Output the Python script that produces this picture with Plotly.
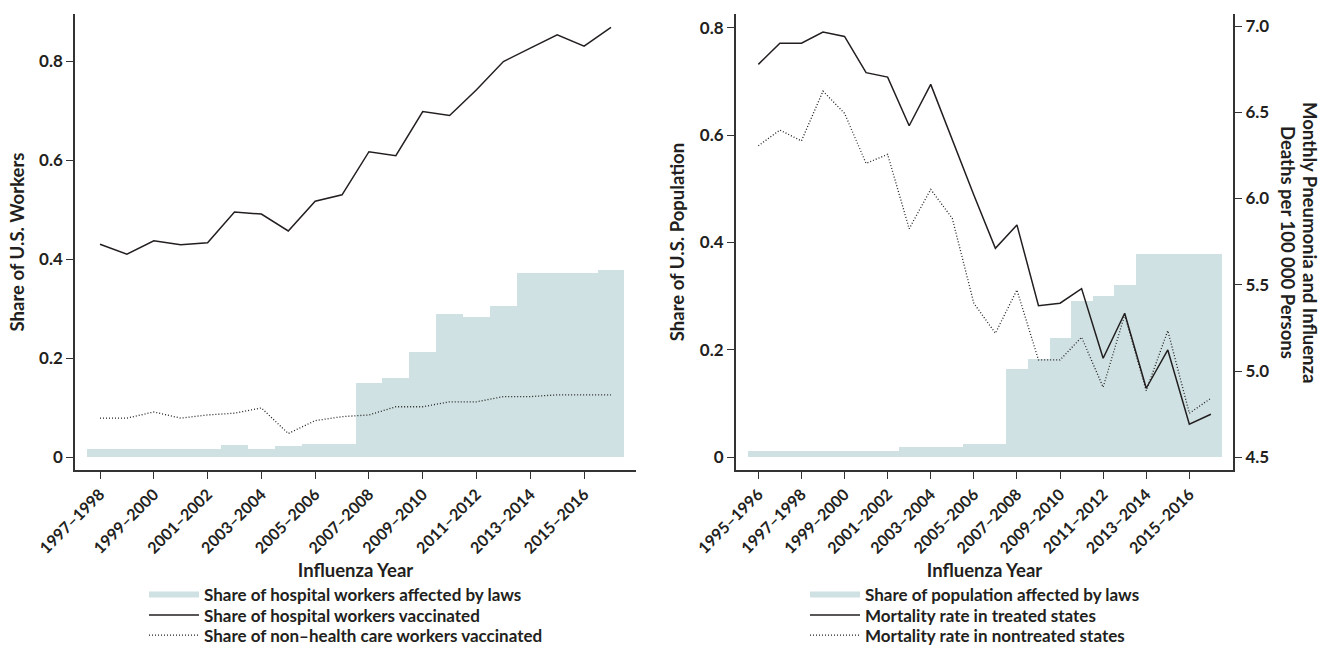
import plotly.graph_objects as go

# ---------------- data ----------------
seasons_left = ["1997–1998", "1998–1999", "1999–2000", "2000–2001", "2001–2002",
                "2002–2003", "2003–2004", "2004–2005", "2005–2006", "2006–2007",
                "2007–2008", "2008–2009", "2009–2010", "2010–2011", "2011–2012",
                "2012–2013", "2013–2014", "2014–2015", "2015–2016", "2016–2017"]
hosp_affected = [0.0175, 0.0175, 0.0175, 0.0175, 0.0175, 0.024, 0.017, 0.022, 0.027, 0.027,
                 0.150, 0.160, 0.212, 0.289, 0.283, 0.305, 0.373, 0.373, 0.373, 0.378]
hosp_vaccinated = [0.430, 0.410, 0.437, 0.429, 0.433, 0.495, 0.491, 0.457, 0.517, 0.530,
                   0.617, 0.609, 0.698, 0.690, 0.742, 0.799, 0.826, 0.853, 0.830, 0.868]
nonhc_vaccinated = [0.079, 0.079, 0.0915, 0.079, 0.0855, 0.089, 0.0996, 0.048, 0.074, 0.082,
                    0.0855, 0.102, 0.102, 0.112, 0.112, 0.1225, 0.1225, 0.126, 0.126, 0.126]

seasons_right = ["1995–1996", "1996–1997"] + seasons_left
pop_affected = [0.0124, 0.0124, 0.0124, 0.0124, 0.0124, 0.0124, 0.0124, 0.0186, 0.0186, 0.0186,
                0.0248, 0.0248, 0.1645, 0.183, 0.223, 0.291, 0.300, 0.320, 0.378, 0.378,
                0.378, 0.378]
mort_treated = [6.778, 6.901, 6.901, 6.965, 6.940, 6.730, 6.704, 6.422, 6.662, 6.335,
                6.020, 5.711, 5.847, 5.379, 5.393, 5.478, 5.074, 5.335, 4.900, 5.122,
                4.691, 4.749]
mort_nontreated = [6.306, 6.397, 6.334, 6.623, 6.494, 6.204, 6.256, 5.825, 6.053, 5.885,
                   5.393, 5.219, 5.470, 5.064, 5.064, 5.196, 4.906, 5.325, 4.886, 5.234,
                   4.755, 4.842]

share_ticks = [0, 0.2, 0.4, 0.6, 0.8]
share_tick_text = ["0", "0.2", "0.4", "0.6", "0.8"]
mort_ticks = [4.5, 5.0, 5.5, 6.0, 6.5, 7.0]
right_title_lines = ["Monthly Pneumonia and Influenza", "Deaths per 100 000 Persons"]

# ---------------- style ----------------
FILL = "#cfe1e2"
INK = "#231f20"
FONT = dict(family="Lato, 'Open Sans', sans-serif", size=17, color=INK, weight=700)
XTICKFONT = dict(FONT, size=16)
TITLEFONT = dict(FONT, size=18.5)
W, H = 1321, 653
DOTS = "1px,2px"

fig = go.Figure()

# left panel
fig.add_trace(go.Bar(x=seasons_left, y=hosp_affected, width=1, marker=dict(color=FILL, line=dict(width=0)),
                     showlegend=False, xaxis="x", yaxis="y"))
fig.add_trace(go.Scatter(x=[None], y=[None], mode="lines", line=dict(color=FILL, width=6),
                         name="Share of hospital workers affected by laws", legend="legend",
                         xaxis="x", yaxis="y"))
fig.add_trace(go.Scatter(x=seasons_left, y=hosp_vaccinated, mode="lines",
                         line=dict(color=INK, width=1.5),
                         name="Share of hospital workers vaccinated", legend="legend2",
                         xaxis="x", yaxis="y"))
fig.add_trace(go.Scatter(x=seasons_left, y=nonhc_vaccinated, mode="lines",
                         line=dict(color=INK, width=1.3, dash=DOTS),
                         name="Share of non–health care workers vaccinated", legend="legend3",
                         xaxis="x", yaxis="y"))

# right panel
fig.add_trace(go.Bar(x=seasons_right, y=pop_affected, width=1, marker=dict(color=FILL, line=dict(width=0)),
                     showlegend=False, xaxis="x2", yaxis="y2"))
fig.add_trace(go.Scatter(x=[None], y=[None], mode="lines", line=dict(color=FILL, width=6),
                         name="Share of population affected by laws", legend="legend4",
                         xaxis="x2", yaxis="y2"))
fig.add_trace(go.Scatter(x=seasons_right, y=mort_treated, mode="lines",
                         line=dict(color=INK, width=1.5),
                         name="Mortality rate in treated states", legend="legend5",
                         xaxis="x2", yaxis="y3"))
fig.add_trace(go.Scatter(x=seasons_right, y=mort_nontreated, mode="lines",
                         line=dict(color=INK, width=1.3, dash=DOTS),
                         name="Mortality rate in nontreated states", legend="legend6",
                         xaxis="x2", yaxis="y3"))

ydom = [1 - 470 / H, 1 - 14 / H]
axis_common = dict(showline=True, linecolor="#333333", linewidth=1.5, ticks="outside",
                   ticklen=7, tickwidth=1.3, tickcolor="#333333", showgrid=False,
                   zeroline=False, automargin=False, tickfont=FONT)

xcommon = dict(axis_common, type="category", tickangle=-45, tickfont=XTICKFONT,
               title=dict(text="Influenza Year", font=TITLEFONT, standoff=8))


def legend_box(px_x, px_y):
    return dict(x=px_x / W, y=1 - px_y / H, xanchor="left", yanchor="middle", font=FONT,
                bgcolor="rgba(0,0,0,0)", itemwidth=50, borderwidth=0)


rows = [595, 615.5, 635.5]
fig.update_layout(
    width=W, height=H, margin=dict(l=0, r=0, t=0, b=0, autoexpand=False),
    paper_bgcolor="white", plot_bgcolor="white", font=FONT, bargap=0,
    xaxis=dict(xcommon, domain=[75 / W, 636 / W], anchor="y", range=[-0.93, 19.93],
               tickvals=seasons_left[::2], ticktext=seasons_left[::2]),
    yaxis=dict(axis_common, domain=ydom, anchor="x", range=[-0.0257, 0.895],
               tickvals=share_ticks, ticktext=share_tick_text,
               title=dict(text="Share of U.S. Workers", font=TITLEFONT, standoff=10)),
    xaxis2=dict(xcommon, domain=[735.7 / W, 1233.3 / W], anchor="y2", range=[-1.05, 22.04],
                tickvals=seasons_right[::2], ticktext=seasons_right[::2]),
    yaxis2=dict(axis_common, domain=ydom, anchor="x2", range=[-0.0237, 0.8255],
                tickvals=share_ticks, ticktext=share_tick_text,
                title=dict(text="Share of U.S. Population", font=TITLEFONT, standoff=10)),
    yaxis3=dict(axis_common, domain=ydom, anchor="x2", overlaying="y2", side="right",
                range=[4.426, 7.070], tickvals=mort_ticks, tickformat=".1f"),
    legend=legend_box(144, rows[0]),
    legend2=legend_box(144, rows[1]),
    legend3=legend_box(144, rows[2]),
    legend4=legend_box(805, rows[0]),
    legend5=legend_box(805, rows[1]),
    legend6=legend_box(805, rows[2]),
    annotations=[dict(text=line, x=xp / W, y=1 - 242 / H, xref="paper", yref="paper",
                      xanchor="center", yanchor="middle", textangle=90, showarrow=False,
                      font=TITLEFONT)
                 for line, xp in zip(right_title_lines, [1310, 1288])],
    showlegend=True,
)

fig.write_html("out.html")
